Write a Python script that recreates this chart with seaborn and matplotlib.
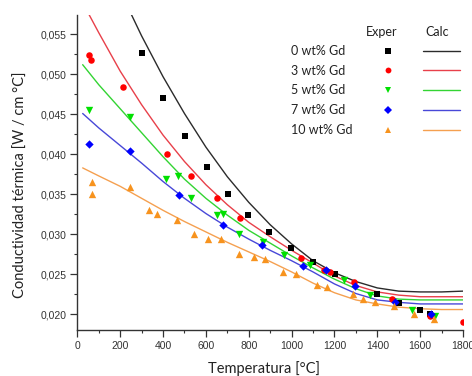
import matplotlib
matplotlib.use("Agg")
import matplotlib.pyplot as plt
from matplotlib.lines import Line2D
from matplotlib.ticker import MultipleLocator, FuncFormatter
import seaborn as sns
import pandas as pd

# ---------------- data ----------------
series_names = ["0 wt% Gd", "3 wt% Gd", "5 wt% Gd", "7 wt% Gd", "10 wt% Gd"]

# experimental points
exp0_T = [304, 401, 501, 605, 702, 798, 896, 997, 1101, 1204, 1399, 1502, 1599, 1648]
exp0_k = [0.0526, 0.0470, 0.0423, 0.0384, 0.0351, 0.0324, 0.0303, 0.0283, 0.0266, 0.0250,
          0.0225, 0.0214, 0.0206, 0.0201]
exp3_T = [56, 66, 212, 420, 529, 652, 760, 1042, 1150, 1180, 1291, 1470, 1648, 1800]
exp3_k = [0.0524, 0.0518, 0.0484, 0.0401, 0.0373, 0.0345, 0.0320, 0.0271, 0.0256, 0.0253,
          0.0240, 0.0219, 0.0198, 0.0190]
exp5_T = [56, 247, 412, 471, 531, 652, 681, 755, 865, 966, 1086, 1246, 1367, 1563, 1669]
exp5_k = [0.0455, 0.0446, 0.0369, 0.0373, 0.0345, 0.0324, 0.0326, 0.0301, 0.0290, 0.0274,
          0.0262, 0.0243, 0.0224, 0.0205, 0.0198]
exp7_T = [56, 247, 473, 681, 863, 1054, 1159, 1294, 1482, 1650]
exp7_k = [0.0413, 0.0404, 0.0349, 0.0312, 0.0287, 0.0261, 0.0255, 0.0236, 0.0215, 0.0200]
exp10_T = [67, 67, 247, 334, 370, 465, 545, 610, 671, 756, 824, 876, 962, 1022, 1117, 1167,
           1285, 1333, 1391, 1476, 1571, 1665]
exp10_k = [0.0365, 0.0350, 0.0359, 0.0331, 0.0325, 0.0318, 0.0300, 0.0294, 0.0294, 0.0275,
           0.0272, 0.0269, 0.0253, 0.0250, 0.0237, 0.0234, 0.0226, 0.0219, 0.0216, 0.0210,
           0.0200, 0.0194]

# calculated curves
calc0_T = [250, 300, 400, 500, 600, 700, 800, 900, 1000, 1100, 1200, 1300, 1400, 1500, 1600, 1700, 1800]
calc0_k = [0.0576, 0.0548, 0.0497, 0.0451, 0.0409, 0.0372, 0.0340, 0.0312, 0.0288, 0.0267,
           0.0252, 0.0241, 0.0233, 0.0229, 0.0228, 0.0228, 0.0229]
calc3_T = [50, 100, 200, 300, 400, 500, 600, 700, 800, 900, 1000, 1100, 1200, 1300, 1400, 1500, 1600, 1700, 1800]
calc3_k = [0.0577, 0.0552, 0.0504, 0.0462, 0.0424, 0.0391, 0.0362, 0.0337, 0.0315, 0.0297,
           0.0280, 0.0264, 0.0248, 0.0236, 0.0228, 0.0224, 0.0222, 0.0222, 0.0222]
calc5_T = [25, 100, 200, 300, 400, 500, 600, 700, 800, 900, 1000, 1100, 1200, 1300, 1400, 1500, 1600, 1700, 1800]
calc5_k = [0.0512, 0.0487, 0.0457, 0.0427, 0.0397, 0.0369, 0.0345, 0.0324, 0.0305, 0.0289,
           0.0273, 0.0258, 0.0244, 0.0232, 0.0223, 0.0219, 0.0218, 0.0218, 0.0218]
calc7_T = [25, 100, 200, 300, 400, 500, 600, 700, 800, 900, 1000, 1100, 1200, 1300, 1400, 1500, 1600, 1700, 1800]
calc7_k = [0.0451, 0.0433, 0.0411, 0.0389, 0.0366, 0.0345, 0.0326, 0.0309, 0.0294, 0.0280,
           0.0267, 0.0253, 0.0238, 0.0226, 0.0218, 0.0215, 0.0213, 0.0213, 0.0213]
calc10_T = [25, 100, 200, 300, 400, 500, 600, 700, 800, 900, 1000, 1100, 1200, 1300, 1400, 1500, 1600, 1700, 1800]
calc10_k = [0.0383, 0.0373, 0.0360, 0.0345, 0.0330, 0.0316, 0.0303, 0.0290, 0.0278, 0.0266,
            0.0253, 0.0239, 0.0227, 0.0218, 0.0213, 0.0209, 0.0207, 0.0206, 0.0206]

x_ticks = [0, 200, 400, 600, 800, 1000, 1200, 1400, 1600, 1800]
y_ticks = [0.020, 0.025, 0.030, 0.035, 0.040, 0.045, 0.050, 0.055]

exp_T = [exp0_T, exp3_T, exp5_T, exp7_T, exp10_T]
exp_k = [exp0_k, exp3_k, exp5_k, exp7_k, exp10_k]
calc_T = [calc0_T, calc3_T, calc5_T, calc7_T, calc10_T]
calc_k = [calc0_k, calc3_k, calc5_k, calc7_k, calc10_k]

# ---------------- style ----------------
marker_colors = ["#000000", "#ff0000", "#00e000", "#0000ff", "#f7931e"]
line_colors = ["#2b2b2b", "#e8404a", "#33d433", "#4848d8", "#f5a050"]
markers = ["s", "o", "v", "D", "^"]
msizes = [16, 22, 28, 18, 28]

sns.set_theme(style="ticks")
plt.rcParams["font.family"] = ["Lato", "DejaVu Sans"]

fig = plt.figure(figsize=(4.72, 3.76), dpi=100)
ax = fig.add_axes([0.1638, 0.1223, 0.8172, 0.8378])

for i in range(5):
    dfc = pd.DataFrame({"T": calc_T[i], "k": calc_k[i]})
    sns.lineplot(data=dfc, x="T", y="k", ax=ax, color=line_colors[i], lw=1.0,
                 errorbar=None, sort=True, zorder=2)
for i in range(5):
    dfe = pd.DataFrame({"T": exp_T[i], "k": exp_k[i]})
    sns.scatterplot(data=dfe, x="T", y="k", ax=ax, color=marker_colors[i],
                    marker=markers[i], s=msizes[i], linewidth=0, zorder=3, clip_on=True)

ax.set_xlim(0, 1800)
ax.set_ylim(0.01804, 0.05741)
ax.set_xticks(x_ticks)
ax.set_yticks(y_ticks)
ax.xaxis.set_minor_locator(MultipleLocator(100))
ax.yaxis.set_minor_locator(MultipleLocator(0.0025))
ax.yaxis.set_major_formatter(FuncFormatter(lambda v, p: f"{v:.3f}".replace(".", ",")))

for s in ["top", "right"]:
    ax.spines[s].set_visible(False)
for s in ["left", "bottom"]:
    ax.spines[s].set_color("#333333")
    ax.spines[s].set_linewidth(1.0)

ax.tick_params(which="major", direction="out", length=5, width=0.9, color="#333333",
               labelsize=7.5, labelcolor="#333333", pad=3)
ax.tick_params(which="minor", direction="out", length=2.5, width=0.8, color="#333333")
for lab in ax.get_xticklabels() + ax.get_yticklabels():
    lab.set_fontfamily(["Liberation Sans", "DejaVu Sans"])

ax.set_xlabel("Temperatura [°C]", fontsize=10.5, color="#222222")
ax.set_ylabel("Conductividad térmica [W / cm °C]", fontsize=10.5, color="#222222")
ax.xaxis.set_label_coords(0.483, -0.097)
ax.yaxis.set_label_coords(-0.128, 0.46)

# legend: column of labels, column of markers, column of lines
blank = [Line2D([], [], ls="none", marker=None) for _ in range(5)]
m_handles = [Line2D([], [], ls="none", marker=markers[i], color=marker_colors[i],
                    markersize=4.2, markeredgewidth=0) for i in range(5)]
l_handles = [Line2D([], [], color=line_colors[i], lw=1.0) for i in range(5)]
leg = ax.legend(handles=blank + m_handles + l_handles,
                labels=series_names + [""] * 10, ncol=3,
                markerfirst=True, frameon=False, loc="upper left",
                bbox_to_anchor=(0.457, 0.905), borderpad=0, borderaxespad=0,
                fontsize=9, handlelength=3.0, handletextpad=0.0, columnspacing=1.3,
                labelspacing=0.62)
for t in leg.get_texts():
    t.set_color("#222222")
ax.text(0.790, 0.946, "Exper", transform=ax.transAxes, ha="center", va="center",
        fontsize=9, color="#222222")
ax.text(0.933, 0.946, "Calc", transform=ax.transAxes, ha="center", va="center",
        fontsize=9, color="#222222")

fig.savefig("out.png", dpi=100, facecolor="white")
